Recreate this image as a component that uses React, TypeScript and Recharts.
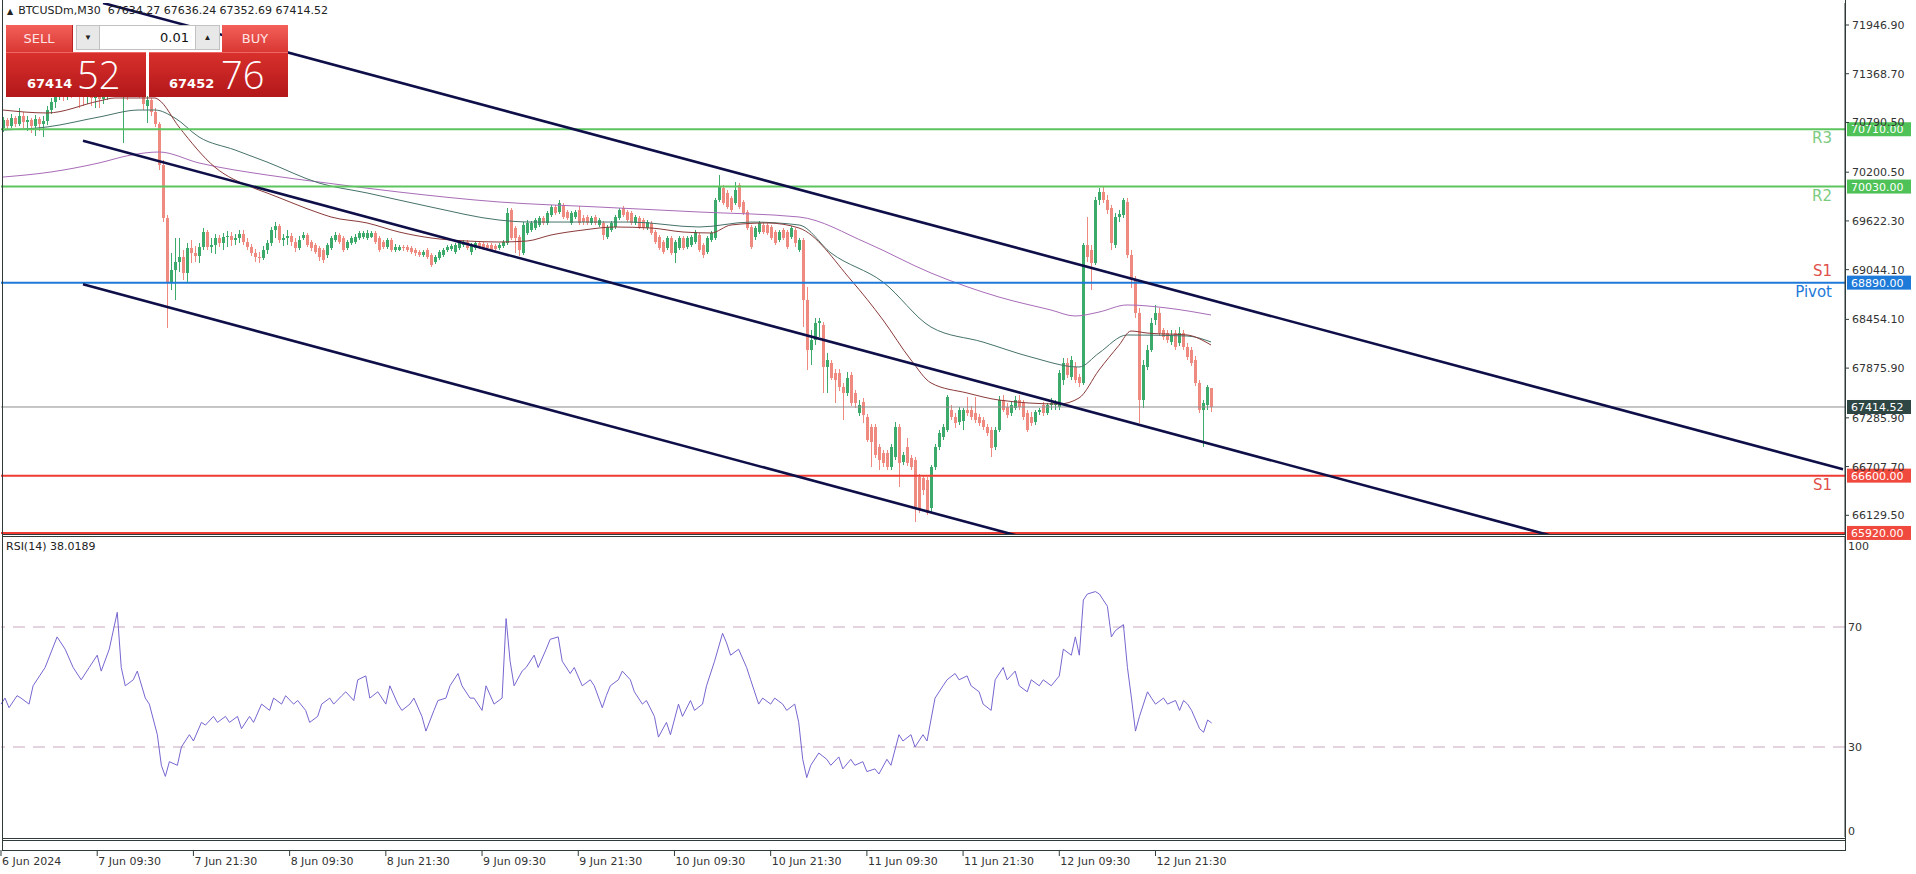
import React from 'react';
import { ComposedChart, Bar, Line, XAxis, YAxis, ReferenceLine } from 'recharts';

const FONT = '"DejaVu Sans", Verdana, sans-serif';
const AXIS = '#2F3B3B';
const BULL = '#3BAA6A';
const BEAR = '#EE8A80';

// ---- OHLC (M30 bars, index 0 = 6 Jun 21:30) ----
const opens = [70725,70820,70748,70843,70773,70867,70796,70820,70748,70832,70773,70808,70938,71033,71104,71152,71093,71176,71128,71211,71140,71104,71152,71080,71116,71069,71128,71176,71223,71270,71199,71235,71176,71223,71247,71176,70986,71057,70914,70773,70286,69656,68897,69040,69135,69194,69004,69301,69241,69206,69313,69490,69313,69337,69419,69360,69431,69443,69396,69419,69467,69372,69313,69241,69194,69182,69277,69360,69514,69562,69396,69419,69443,69372,69301,69419,69455,69372,69337,69301,69277,69218,69301,69396,69455,69419,69301,69360,69372,69419,69431,69419,69431,69478,69419,69372,69313,69396,69277,69277,69313,69313,69301,69277,69253,69218,69277,69218,69135,69182,69218,69277,69290,69253,69301,69337,69372,69253,69301,69360,69349,69337,69337,69325,69301,69325,69360,69752,69538,69431,69241,69478,69514,69538,69574,69656,69597,69692,69787,69728,69811,69728,69597,69668,69752,69656,69668,69597,69668,69574,69597,69431,69514,69550,69656,69775,69728,69716,69597,69656,69633,69538,69597,69490,69431,69372,69301,69419,69241,69301,69419,69313,69337,69372,69455,69337,69253,69396,69419,69870,70013,69954,69894,69835,70048,69847,69728,69550,69431,69490,69574,69574,69550,69490,69396,69514,69490,69431,69514,69277,69396,68684,68091,68209,68411,68387,67889,67937,67818,67818,67651,67580,67794,67580,67343,67474,67296,67177,67177,66940,66868,66868,66702,66821,67177,66761,66940,66809,66785,66584,66572,66548,66216,66702,66940,67058,67141,67379,67296,67236,67248,67379,67379,67343,67296,67260,67177,67141,66940,67141,67497,67414,67343,67402,67497,67462,67343,67296,67236,67355,67438,67343,67438,67438,67414,67735,67937,67770,67889,67770,67699,69337,69277,69123,69870,69965,69870,69775,69337,69668,69692,69847,69218,68921,68530,67497,67889,68091,68447,68530,68328,68292,68186,68292,68174,68292,68126,68091,67972,67699,67379,67438,67634.27];
const highs = [70855,70843,70891,70867,70962,70914,70867,70843,70879,70855,70867,70986,71080,71152,71199,71199,71223,71223,71247,71247,71199,71223,71199,71176,71164,71176,71247,71294,71342,71318,71294,71270,71294,71318,71294,71223,71104,71080,70962,70796,70345,69692,69241,69419,69419,69277,69360,69396,69325,69360,69538,69514,69419,69467,69455,69478,69502,69490,69467,69514,69514,69419,69349,69290,69253,69325,69396,69550,69609,69586,69467,69514,69478,69419,69443,69490,69478,69396,69360,69325,69301,69360,69443,69490,69478,69443,69396,69443,69467,69502,69502,69514,69502,69502,69443,69396,69419,69419,69349,69337,69337,69337,69325,69301,69277,69277,69301,69241,69218,69277,69301,69337,69349,69360,69396,69396,69396,69360,69384,69384,69372,69360,69360,69349,69360,69396,69775,69775,69562,69455,69609,69633,69621,69656,69680,69680,69740,69811,69811,69870,69835,69752,69740,69752,69799,69692,69692,69680,69692,69656,69621,69574,69621,69692,69775,69799,69752,69740,69692,69680,69656,69633,69621,69514,69455,69396,69443,69443,69396,69443,69443,69443,69455,69514,69478,69360,69443,69502,69894,70167,70048,69989,69918,70084,70072,69870,69752,69574,69562,69621,69597,69597,69574,69514,69514,69538,69514,69562,69538,69419,69419,68838,68328,68470,68470,68423,68055,67972,67865,67865,67699,67830,67830,67616,67497,67521,67331,67213,67213,66975,66904,66904,66975,67236,67213,66880,67047,66845,66821,66619,66608,66584,66726,66975,67141,67213,67557,67438,67343,67414,67402,67533,67426,67533,67331,67296,67213,67177,67177,67545,67557,67462,67474,67545,67557,67497,67379,67355,67379,67402,67474,67462,67521,67497,67853,67996,67996,68020,67949,67806,69360,69668,69337,69906,70013,70025,69930,69811,69716,69752,69894,69894,69277,68969,68589,67972,68150,68470,68625,68589,68352,68328,68328,68328,68363,68328,68174,68126,68020,67735,67497,67675,67636.24];
const lows = [70677,70701,70724,70736,70748,70724,70689,70665,70630,70689,70618,70760,70891,70962,71057,71045,71057,71080,71093,70962,70986,71010,70986,70962,70962,71010,71057,71104,71152,71116,70546,71057,71104,71128,71080,70938,70784,70867,70736,70226,69609,68351,68803,68684,69016,68921,68897,69123,69135,69123,69277,69277,69241,69230,69313,69277,69313,69325,69337,69360,69337,69277,69206,69135,69123,69159,69230,69325,69419,69360,69325,69337,69325,69253,69277,69396,69313,69265,69230,69147,69123,69182,69277,69372,69349,69253,69277,69337,69349,69396,69407,69396,69419,69349,69253,69290,69290,69253,69253,69265,69265,69253,69230,69206,69194,69194,69170,69075,69111,69159,69194,69253,69265,69230,69277,69313,69277,69218,69277,69290,69277,69277,69253,69265,69277,69301,69337,69396,69241,69206,69218,69455,69490,69514,69550,69574,69574,69668,69692,69704,69645,69633,69574,69645,69574,69574,69574,69574,69574,69550,69396,69407,69490,69526,69633,69668,69609,69574,69574,69526,69514,69514,69455,69349,69277,69230,69277,69218,69123,69277,69277,69290,69313,69349,69253,69182,69230,69372,69396,69847,69811,69764,69728,69811,69764,69692,69514,69290,69396,69467,69467,69455,69396,69337,69372,69396,69290,69407,69313,69253,68363,67853,67913,68150,68245,67580,67580,67735,67462,67603,67260,67545,67426,67402,67307,67224,66999,66702,66809,66667,66702,66667,66667,66785,66465,66726,66714,66667,66050,66157,66370,66133,66169,66667,66904,67023,67118,67260,67165,67201,67141,67307,67260,67224,67189,67141,67070,66821,66904,67118,67355,67284,67307,67379,67379,67260,67118,67189,67201,67319,67307,67319,67379,67379,67379,67675,67758,67735,67699,67651,67675,69135,68803,69099,69811,69835,69704,69277,69301,69609,69656,69182,68827,68470,67224,67402,67853,68067,68387,68257,68209,68174,68150,68091,68138,68091,67972,67901,67663,67343,66940,67379,67352.69];
const closes = [70820,70748,70843,70773,70867,70796,70820,70748,70832,70773,70808,70938,71033,71104,71152,71093,71176,71128,71211,71140,71104,71152,71080,71116,71069,71128,71176,71223,71270,71199,71235,71176,71223,71247,71176,71010,71057,70914,70773,70286,69656,68897,69040,69135,69194,69004,69301,69241,69206,69313,69490,69313,69337,69419,69360,69431,69443,69396,69419,69467,69372,69313,69241,69194,69182,69277,69360,69514,69562,69396,69419,69443,69372,69301,69396,69455,69337,69301,69253,69194,69159,69337,69419,69455,69372,69277,69372,69419,69431,69478,69478,69478,69478,69372,69277,69313,69396,69277,69313,69313,69301,69277,69253,69241,69218,69253,69194,69099,69194,69253,69277,69313,69325,69337,69372,69372,69301,69337,69360,69313,69301,69301,69277,69290,69337,69372,69716,69419,69419,69277,69574,69597,69597,69633,69656,69597,69716,69787,69716,69835,69668,69656,69716,69728,69597,69609,69597,69656,69597,69633,69455,69550,69597,69668,69752,69692,69633,69597,69668,69550,69538,69609,69478,69372,69301,69253,69419,69241,69372,69419,69301,69419,69431,69490,69277,69218,69419,69478,69870,70025,69835,69787,69752,69989,69787,69716,69538,69313,69538,69597,69490,69478,69419,69360,69490,69419,69313,69538,69360,69396,68684,68091,68209,68411,68435,67889,67972,67758,67735,67651,67580,67758,67462,67462,67438,67319,67023,66999,66845,66785,66749,66702,66940,67177,66749,66845,66749,66702,66228,66192,66430,66157,66702,66940,67106,67177,67533,67296,67224,67379,67379,67343,67296,67260,67224,67177,67106,66928,67141,67497,67379,67319,67438,67497,67414,67296,67141,67224,67355,67379,67343,67438,67462,67462,67818,67937,67794,67972,67735,67699,69337,69194,69123,69870,69965,69870,69752,69360,69668,69704,69870,69218,68921,68530,67497,67913,68091,68411,68530,68292,68245,68209,68269,68126,68292,68126,68008,67937,67699,67379,67462,67651,67414.52];

// ---- moving averages: [bar index, price] ----
const maFast: [number, number][] = [[0,70938],[11,70903],[24,71045],[28,71081],[38,71081],[39,71057],[44,70737],[53,70259],[62,70025],[66,69954],[79,69716],[82,69669],[91,69598],[99,69491],[107,69420],[116,69384],[124,69372],[131,69384],[137,69455],[145,69514],[153,69550],[162,69538],[170,69491],[177,69479],[182,69574],[191,69598],[199,69538],[212,68921],[220,68447],[227,67972],[232,67700],[241,67581],[249,67497],[264,67450],[269,67521],[274,67853],[279,68147],[282,68316],[286,68292],[296,68269],[302,68150]];
const maMid: [number, number][] = [[0,70701],[11,70737],[24,70855],[34,70938],[38,70938],[43,70843],[49,70618],[58,70464],[66,70321],[79,70072],[91,69954],[107,69787],[124,69633],[132,69609],[157,69609],[174,69550],[187,69609],[199,69574],[207,69242],[220,68897],[232,68363],[245,68185],[257,68007],[269,67889],[274,68055],[281,68269],[296,68257],[302,68186]];
const maSlow: [number, number][] = [[0,70143],[12,70203],[24,70310],[32,70404],[39,70440],[49,70310],[66,70167],[79,70084],[99,69965],[124,69847],[149,69787],[174,69728],[199,69669],[216,69360],[232,69004],[249,68719],[262,68565],[268,68494],[274,68541],[281,68625],[291,68589],[302,68506]];

// ---- RSI(14): [bar index, value] ----
const rsiPoints: [number, number][] = [[0,44.3],[1,46.3],[2,43.1],[4,47.1],[5,46.3],[7,44.3],[8,50.4],[11,56.5],[14,66.7],[16,62.6],[18,56.5],[20,52.4],[22,56.5],[24,60.6],[25,55.3],[27,62.6],[29,74.9],[30,56.5],[31,50.4],[33,52.4],[34,55.3],[36,46.3],[37,44.3],[39,34.1],[40,23.9],[41,20.2],[42,25.1],[44,23.9],[45,30],[47,34.1],[48,32],[50,38.2],[51,37.3],[53,40.2],[54,38.2],[56,40.2],[57,38.2],[59,40.2],[60,36.1],[62,40.2],[63,38.2],[65,44.3],[67,42.2],[68,46.3],[70,44.3],[71,47.1],[73,44.3],[74,45.5],[76,42.2],[77,38.2],[79,40.2],[80,44.3],[82,46.3],[83,44.3],[85,47.1],[86,48.4],[88,45.5],[89,52.4],[91,53.7],[92,46.3],[94,48.4],[96,44.3],[97,50.4],[99,44.3],[100,42.2],[102,44.3],[103,46.3],[105,40.2],[106,35.3],[108,42.2],[109,45.5],[111,46.3],[112,50.4],[114,54.5],[115,50.4],[117,46.3],[118,46.3],[120,42.2],[121,50.4],[123,44.3],[125,46.3],[126,72.8],[127,58.6],[128,50.4],[130,55.3],[131,56.5],[133,60.6],[134,56.5],[136,62.6],[137,65.9],[139,66.7],[140,58.6],[142,54.5],[143,56.5],[145,50.4],[147,52.4],[148,50.4],[150,43.1],[151,47.1],[152,50.4],[154,52.4],[155,55.3],[157,52.4],[158,48.4],[160,44.3],[161,45.5],[163,40.2],[164,33.3],[166,38.2],[167,34.1],[169,44.3],[170,40.2],[172,45.5],[173,42.2],[175,44.3],[176,50.4],[178,58.6],[180,67.9],[181,64.7],[182,60.6],[184,62.6],[186,56.5],[187,52.4],[189,44.3],[190,46.3],[192,44.3],[193,46.3],[195,44.3],[196,42.2],[198,44.3],[199,38.2],[200,25.9],[201,19.8],[202,23.9],[204,28],[206,25.9],[207,23.9],[209,26.7],[210,22.7],[212,25.9],[213,23.9],[215,25.1],[216,21.8],[218,22.7],[219,21],[221,25.9],[222,23.9],[224,34.1],[225,32],[227,34.1],[228,30],[230,34.1],[231,32],[233,46.3],[235,50.4],[236,52.4],[238,54.5],[239,52.4],[241,53.7],[242,50.4],[244,48.4],[245,44.3],[247,42.2],[248,52.4],[250,56.5],[251,52.4],[253,55.3],[254,50.4],[256,48.4],[257,52.4],[259,50.4],[260,52.4],[262,50.4],[264,53.7],[265,62.6],[267,60.6],[268,66.7],[269,60.6],[270,79],[271,81],[273,81.8],[274,81],[276,76.9],[277,66.7],[278,68.8],[280,70.8],[281,56.5],[282,46.3],[283,35.3],[284,40.2],[286,48.4],[287,46.3],[288,44.3],[290,46.3],[291,44.3],[293,45.5],[294,42.2],[295,45.5],[296,44.3],[297,42.2],[299,36.1],[300,34.9],[301,39],[302,38.02]];

// ---- axes ----
const timeTickIdx = [0, 24, 48, 72, 96, 120, 144, 168, 192, 216, 240, 264, 288];
const timeLabels = ['6 Jun 2024', '7 Jun 09:30', '7 Jun 21:30', '8 Jun 09:30', '8 Jun 21:30', '9 Jun 09:30', '9 Jun 21:30', '10 Jun 09:30', '10 Jun 21:30', '11 Jun 09:30', '11 Jun 21:30', '12 Jun 09:30', '12 Jun 21:30'];
const priceTicks = [71946.9, 71368.7, 70790.5, 70200.5, 69622.3, 69044.1, 68454.1, 67875.9, 67285.9, 66707.7, 66129.5];
const rsiTicks = [0, 30, 70, 100];

// ---- pivot levels ----
const levelValues = [70710, 70030, 68890, 66600, 65920];
const levelBelow = ['R3', 'R2', 'Pivot', 'S1', ''];
const levelAbove = ['', '', 'S1', '', ''];
const levelLine = ['#5CC55F', '#5CC55F', '#1E7AD8', '#EE3B33', '#EE3B33'];
const levelTag = ['#4EC257', '#4EC257', '#1E7AD8', '#F04A3E', '#F04A3E'];
const levelText = ['#7CCB7F', '#7CCB7F', '#1E7AD8', '#E0504A', '#E0504A'];
const lastPrice = 67414.52;

// ---- channel lines (bar index, price) ----
const channelStart: [number, number][] = [[25, 72208], [20, 70574], [20, 68870]];
const channelEnd: [number, number][] = [[460, 66675], [460, 64957], [460, 63253]];

const SLOTS = 461;
const PRICE_DOMAIN: [number, number] = [65907.6, 72207.9];

const rows: any[] = Array.from({ length: SLOTS }, (_, i) => ({ i }));
opens.forEach((o, i) => {
  rows[i].o = o; rows[i].h = highs[i]; rows[i].l = lows[i]; rows[i].c = closes[i];
  rows[i].range = [lows[i], highs[i]];
});
maFast.forEach(([k, v]) => { rows[k].maF = v; });
maMid.forEach(([k, v]) => { rows[k].maM = v; });
maSlow.forEach(([k, v]) => { rows[k].maS = v; });
rsiPoints.forEach(([k, v]) => { rows[k].rsi = v; });

const Candle = (props: any) => {
  const { x, y, width, height, payload } = props;
  if (!payload || payload.o == null || x == null) return null;
  const { o, h, l, c } = payload;
  const span = h - l;
  const py = (v: number) => (span > 0 ? y + ((h - v) / span) * height : y);
  const color = c >= o ? BULL : BEAR;
  const top = py(Math.max(o, c));
  const bot = py(Math.min(o, c));
  const wx = Math.floor(x + width / 2);
  return (
    <g shapeRendering="crispEdges">
      <rect x={wx} y={y} width={1} height={Math.max(1, height)} fill={color} />
      <rect x={wx - 1} y={top} width={3} height={Math.max(1, bot - top)} fill={color} />
    </g>
  );
};

const PriceTick = (props: any) => {
  const { x, y, payload } = props;
  return (
    <g>
      <line x1={x} x2={x + 4} y1={y} y2={y} stroke={AXIS} />
      <text x={x + 7} y={y + 4} fontSize={11} fontFamily={FONT} fill="#333">{Number(payload.value).toFixed(2)}</text>
    </g>
  );
};

const RsiTick = (props: any) => {
  const { x, y, payload } = props;
  const v = payload.value;
  const dy = v === 100 ? 13 : v === 0 ? -2 : 4;
  return <text x={x + 3} y={y + dy} fontSize={11} fontFamily={FONT} fill="#333">{v}</text>;
};

const TimeTick = (props: any) => {
  const { x, y, payload } = props;
  const k = timeTickIdx.indexOf(payload.value);
  return (
    <g>
      <line x1={x} x2={x} y1={y + 13} y2={y + 19} stroke={AXIS} />
      <text x={x + 1} y={y + 28} fontSize={11} fontFamily={FONT} fill="#333">{timeLabels[k]}</text>
    </g>
  );
};

const LevelTag = (props: any) => {
  const { viewBox, text, bg, above, below, color } = props;
  if (!viewBox) return null;
  const right = viewBox.x + viewBox.width;
  const y = viewBox.y;
  return (
    <g fontFamily={FONT}>
      {above ? <text x={right - 13} y={y - 7} textAnchor="end" fontSize={15} fill={color === '#1E7AD8' ? '#E0504A' : color}>{above}</text> : null}
      {below ? <text x={right - 13} y={y + 14} textAnchor="end" fontSize={15} fill={color}>{below}</text> : null}
      <rect x={right + 2} y={y - 7} width={64} height={14} fill={bg} />
      <text x={right + 6} y={y + 4} fontSize={11} fill="#fff">{text}</text>
    </g>
  );
};

const box = (s: React.CSSProperties): React.CSSProperties => ({ position: 'absolute', boxSizing: 'border-box', ...s });

const TradePanel = () => (
  <>
    <div style={box({ left: 6, top: 25, width: 67, height: 27, background: 'linear-gradient(#F3605A,#DA3732)', color: '#FFE3E3', font: `13px ${FONT}`, display: 'flex', alignItems: 'center', justifyContent: 'center', borderRight: '1px solid #B22' })}>SELL</div>
    <div style={box({ left: 76, top: 25, width: 24, height: 25, background: '#E8E8E8', border: '1px solid #C2C2C2', display: 'flex', alignItems: 'center', justifyContent: 'center', fontSize: 8, color: '#222' })}>▼</div>
    <div style={box({ left: 100, top: 25, width: 95, height: 25, background: '#fff', borderTop: '1px solid #C2C2C2', borderBottom: '1px solid #C2C2C2', textAlign: 'right', font: `13px ${FONT}`, lineHeight: '23px', paddingRight: 6, color: '#111' })}>0.01</div>
    <div style={box({ left: 195, top: 25, width: 25, height: 25, background: '#E8E8E8', border: '1px solid #C2C2C2', display: 'flex', alignItems: 'center', justifyContent: 'center', fontSize: 8, color: '#222' })}>▲</div>
    <div style={box({ left: 222, top: 25, width: 66, height: 27, background: 'linear-gradient(#F3605A,#DA3732)', color: '#FFE3E3', font: `13px ${FONT}`, display: 'flex', alignItems: 'center', justifyContent: 'center' })}>BUY</div>
    <div style={box({ left: 6, top: 52, width: 140, height: 45, background: 'linear-gradient(#D8302C,#B3171A)', borderTop: '1px solid #E66' })}>
      <span style={{ position: 'absolute', left: 21, top: 23, font: `bold 13px ${FONT}`, color: '#fff' }}>67414</span>
      <span style={{ position: 'absolute', left: 71, top: 0, font: `300 38px "Open Sans", ${FONT}`, color: '#fff', lineHeight: '42px' }}>52</span>
    </div>
    <div style={box({ left: 149, top: 52, width: 139, height: 45, background: 'linear-gradient(#D8302C,#B3171A)', borderTop: '1px solid #E66' })}>
      <span style={{ position: 'absolute', left: 20, top: 23, font: `bold 13px ${FONT}`, color: '#fff' }}>67452</span>
      <span style={{ position: 'absolute', left: 72, top: 0, font: `300 38px "Open Sans", ${FONT}`, color: '#fff', lineHeight: '42px' }}>76</span>
    </div>
  </>
);

export default function App() {
  return (
    <div style={{ position: 'absolute', left: 0, top: 0, width: 1916, height: 874, background: '#fff', overflow: 'hidden' }}>
      <div style={{ position: 'absolute', left: 0, top: 537 }}>
        <ComposedChart width={1916} height={337} data={rows} margin={{ top: 0, right: 0, bottom: 0, left: 1 }}>
          <XAxis dataKey="i" type="category" ticks={timeTickIdx} interval={0} height={37} tickSize={0} tickMargin={0} tickLine={false} axisLine={false} tick={<TimeTick />} />
          <YAxis orientation="right" domain={[0, 100]} allowDataOverflow ticks={rsiTicks} interval={0} width={71} tickSize={0} tickMargin={0} tickLine={false} axisLine={{ stroke: AXIS }} tick={<RsiTick />} />
          <ReferenceLine y={70} stroke="#C8A8BE" strokeDasharray="12 8" />
          <ReferenceLine y={30} stroke="#C8A8BE" strokeDasharray="12 8" />
          <Line dataKey="rsi" stroke="#7766D0" strokeWidth={1} dot={false} connectNulls isAnimationActive={false} />
        </ComposedChart>
      </div>

      <div style={{ position: 'absolute', left: 0, top: 3 }}>
        <ComposedChart width={1916} height={545} data={rows} margin={{ top: 0, right: 0, bottom: 14, left: 1 }} barCategoryGap={0} barGap={0}>
          <XAxis dataKey="i" type="category" hide />
          <YAxis orientation="right" domain={PRICE_DOMAIN} allowDataOverflow ticks={priceTicks} interval={0} width={71} tickSize={0} tickMargin={0} tickLine={false} axisLine={{ stroke: AXIS }} tick={<PriceTick />} />
          <Bar dataKey="range" isAnimationActive={false} shape={(p: any) => <Candle {...p} />} />
          <Line dataKey="maS" stroke="#A86CB8" strokeWidth={1} dot={false} connectNulls type="monotone" isAnimationActive={false} />
          <Line dataKey="maM" stroke="#46726A" strokeWidth={1} dot={false} connectNulls type="monotone" isAnimationActive={false} />
          <Line dataKey="maF" stroke="#8B3A3A" strokeWidth={1} dot={false} connectNulls type="monotone" isAnimationActive={false} />
          {levelValues.map((v, k) => (
            <ReferenceLine key={'lv' + k} y={v} stroke={levelLine[k]} strokeWidth={2}
              label={<LevelTag text={v.toFixed(2)} bg={levelTag[k]} above={levelAbove[k]} below={levelBelow[k]} color={levelText[k]} />} />
          ))}
          <ReferenceLine y={lastPrice} stroke="#8C8C8C" strokeWidth={1}
            label={<LevelTag text={lastPrice.toFixed(2)} bg="#2E4644" />} />
          {channelStart.map((s, k) => (
            <ReferenceLine key={'ch' + k} ifOverflow="hidden" stroke="#0E0E48" strokeWidth={2.6}
              segment={[{ x: s[0], y: s[1] }, { x: channelEnd[k][0], y: channelEnd[k][1] }]} />
          ))}
        </ComposedChart>
      </div>

      {/* panel frames */}
      <div style={box({ left: 2, top: 0, width: 1, height: 851, background: AXIS })} />
      <div style={box({ left: 1845, top: 0, width: 1, height: 851, background: AXIS })} />
      <div style={box({ left: 2, top: 534, width: 1843, height: 1, background: AXIS })} />
      <div style={box({ left: 2, top: 536, width: 1843, height: 1, background: AXIS })} />
      <div style={box({ left: 2, top: 838, width: 1844, height: 1, background: AXIS })} />
      <div style={box({ left: 2, top: 840, width: 1844, height: 11, border: `1px solid ${AXIS}` })} />

      {/* header texts */}
      <div style={box({ left: 7, top: 4, font: `11px ${FONT}`, color: '#222', whiteSpace: 'pre' })}>
        <span style={{ fontSize: 8, marginRight: 5 }}>▲</span>BTCUSDm,M30  67634.27 67636.24 67352.69 67414.52
      </div>
      <div style={box({ left: 6, top: 540, font: `11px ${FONT}`, color: '#222', whiteSpace: 'pre' })}>RSI(14) 38.0189</div>

      <TradePanel />
    </div>
  );
}
